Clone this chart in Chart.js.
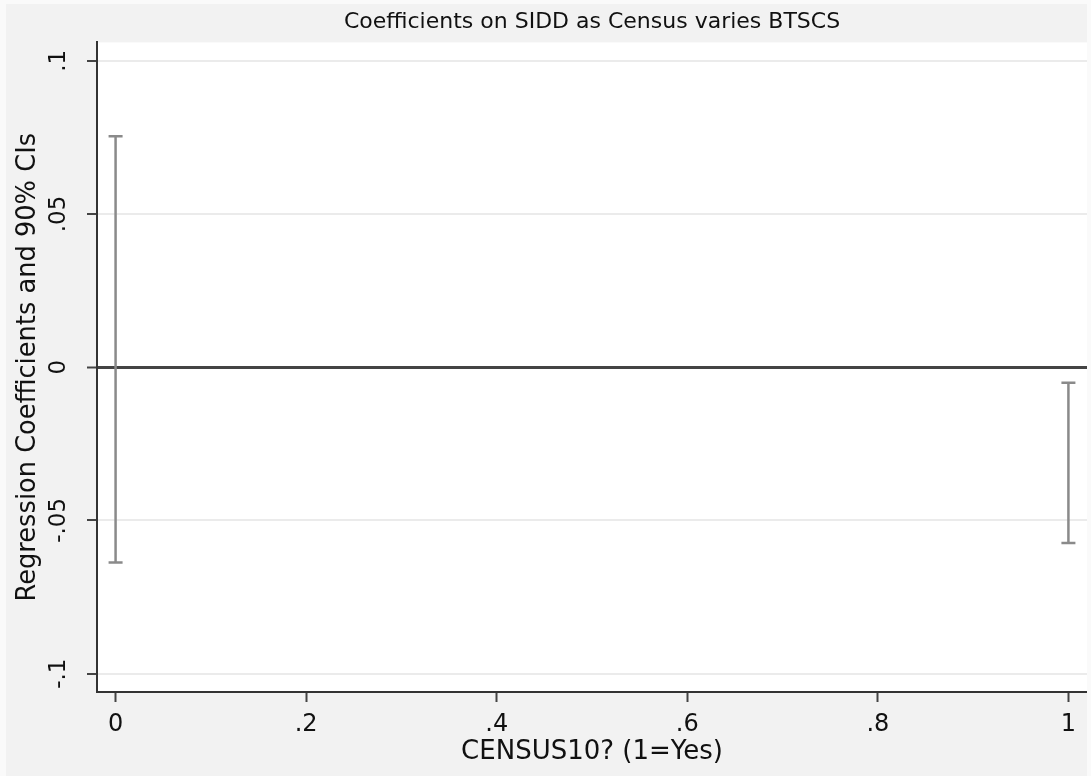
<!DOCTYPE html>
<html>
<head>
<meta charset="utf-8">
<script src="https://cdn.jsdelivr.net/npm/chart.js@4/dist/chart.umd.min.js"></script>
<style>
  body { margin: 0; background: #fafafa; }
  #chart { position: absolute; left: 6px; top: 4px; }
</style>
</head>
<body>
<canvas id="chart" width="1081" height="772"></canvas>
<script>
// census10 values (0 = no, 1 = yes) and 90% CI bounds of the SIDD coefficient
const categories = [0, 1]
const ciLower = [-0.0637, -0.0574]
const ciUpper = [0.0754, -0.0051]

const xTicks = [0, 0.2, 0.4, 0.6, 0.8, 1]
const xTickLabels = ["0", ".2", ".4", ".6", ".8", "1"]
const yTicks = [-0.1, -0.05, 0, 0.05, 0.1]
const yTickLabels = ["-.1", "-.05", "0", ".05", ".1"]

const font = "'DejaVu Sans', sans-serif"

const bgPlugin = {
  id: "bg",
  beforeDraw(chart) {
    const ctx = chart.ctx
    const a = chart.chartArea
    ctx.save()
    ctx.fillStyle = "#f2f2f2"
    ctx.fillRect(0, 0, chart.width, chart.height)
    ctx.fillStyle = "#ffffff"
    ctx.fillRect(a.left, a.top, a.right - a.left, a.bottom - a.top)
    ctx.restore()
  }
}

const datasets = categories.map((c, i) => ({
  data: [{ x: c, y: ciLower[i] }, { x: c, y: ciUpper[i] }],
  showLine: true,
  borderColor: "#8a8a8a",
  borderWidth: 2.5,
  pointStyle: "line",
  pointRadius: 7,
  pointBorderWidth: 2.5,
  pointBorderColor: "#8a8a8a",
  pointBackgroundColor: "#8a8a8a"
}))

new Chart(document.getElementById("chart"), {
  type: "scatter",
  data: { datasets: datasets },
  options: {
    responsive: false,
    animation: false,
    layout: { padding: 0, autoPadding: false },
    plugins: {
      legend: { display: false },
      tooltip: { enabled: false },
      title: {
        display: true,
        text: "Coefficients on SIDD as Census varies BTSCS",
        fullSize: false,
        color: "#111",
        font: { family: font, size: 22, weight: "normal", lineHeight: 1.2 },
        padding: { top: 5, bottom: 7 }
      }
    },
    scales: {
      x: {
        type: "linear",
        min: -0.0195,
        max: 1.0195,
        afterBuildTicks: s => { s.ticks = xTicks.map(v => ({ value: v })) },
        afterFit: s => {
          s.height = 84
          s.paddingLeft = 0
          s.paddingRight = 0
        },
        grid: { drawOnChartArea: false, tickLength: 10, tickColor: "#444", tickWidth: 2 },
        border: { color: "#333", width: 2 },
        ticks: {
          color: "#111",
          padding: 8,
          maxRotation: 0,
          autoSkip: false,
          font: { family: font, size: 24 },
          callback: (v, i) => xTickLabels[i]
        },
        title: {
          display: true,
          text: "CENSUS10? (1=Yes)",
          color: "#111",
          font: { family: font, size: 26 },
          padding: { top: 0, bottom: 8 }
        }
      },
      y: {
        type: "linear",
        min: -0.106,
        max: 0.106,
        afterBuildTicks: s => { s.ticks = yTicks.map(v => ({ value: v })) },
        afterFit: s => {
          s.width = 91
          s.paddingTop = 0
          s.paddingBottom = 0
        },
        grid: {
          color: c => (c.tick && c.tick.value === 0 ? "#444" : "#ebebeb"),
          lineWidth: c => (c.tick && c.tick.value === 0 ? 3 : 2),
          tickLength: 10,
          tickColor: "#444",
          tickWidth: 2
        },
        border: { color: "#333", width: 2 },
        ticks: {
          color: "#111",
          padding: 6,
          minRotation: 90,
          maxRotation: 90,
          crossAlign: "center",
          autoSkip: false,
          font: { family: font, size: 23 },
          callback: (v, i) => yTickLabels[i]
        },
        title: {
          display: true,
          text: "Regression Coefficients and 90% CIs",
          color: "#111",
          font: { family: font, size: 25.7 },
          padding: { top: 7, bottom: 0 }
        }
      }
    }
  },
  plugins: [bgPlugin]
})
</script>
</body>
</html>
